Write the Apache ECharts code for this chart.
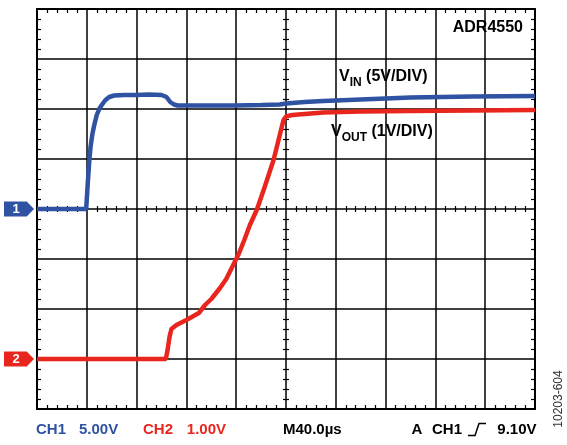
<!DOCTYPE html>
<html><head><meta charset="utf-8">
<script src="https://cdn.jsdelivr.net/npm/echarts@6/dist/echarts.min.js"></script>
<style>html,body{margin:0;padding:0;background:#fff}#c{width:567px;height:445px}</style>
</head><body><div id="c"></div>
<script>
// ---- data (time in µs across the 10-division screen, volts per channel) ----
const ch1Time  = [0, 10, 20, 30, 39.5, 41, 42, 43, 44.5, 46, 48, 50, 52, 55, 58, 62, 70, 80, 90, 100, 104, 107, 110, 113, 120, 140, 160, 180, 195, 200, 215, 230, 260, 300, 350, 400];
const ch1Volts = [0, 0, 0, 0, 0, 3.0, 4.8, 6.2, 7.5, 8.4, 9.4, 10.0, 10.4, 10.9, 11.2, 11.35, 11.4, 11.4, 11.45, 11.4, 11.2, 10.7, 10.45, 10.35, 10.35, 10.35, 10.35, 10.4, 10.45, 10.55, 10.7, 10.8, 10.95, 11.15, 11.25, 11.3];
const ch2Time  = [0, 50, 100, 103.5, 105, 106.5, 108, 112, 120, 130, 135, 140, 147, 152, 157, 162, 166.5, 171, 176.5, 183, 190, 194, 198, 200, 205, 230, 260, 300, 350, 400];
const ch2Volts = [0, 0, 0, 0, 0.2, 0.45, 0.6, 0.68, 0.78, 0.92, 1.08, 1.2, 1.42, 1.6, 1.85, 2.1, 2.38, 2.68, 2.98, 3.45, 3.98, 4.38, 4.78, 4.85, 4.88, 4.93, 4.95, 4.96, 4.97, 4.98];
const timeRange = [0, 400];      // 40 µs/div
const ch1Range  = [-20, 20];     // 5 V/div, ground at centre
const ch2Range  = [-1, 7];       // 1 V/div, ground one div above bottom
const channelTags = ['1', '2'];

const BLUE = '#2F52A3', RED = '#E8261E';
const FONT = '"Liberation Sans", Arial, sans-serif';
const tagPath = 'path://M0,0 L22,0 L29,7 L22,14 L0,14 Z';

function axisBase(extra) {
  return Object.assign({
    type: 'value',
    axisLabel: { show: false },
    axisTick: { show: false, inside: true },
    minorTick: { show: true, splitNumber: 5, length: 4, lineStyle: { color: '#000', width: 1.2 } },
    minorSplitLine: { show: false },
    splitLine: { show: false },
    axisLine: { show: true, onZero: false, lineStyle: { color: '#000', width: 2 } }
  }, extra);
}
function centerAxis(extra, refIndex) {
  return axisBase(Object.assign({
    axisTick: { show: false, inside: false },
    minorTick: { show: true, splitNumber: 5, length: 3, lineStyle: { color: '#000', width: 1.2 } },
    axisLine: { show: false, onZero: true, onZeroAxisIndex: refIndex }
  }, extra));
}
const gridLine = { show: true, lineStyle: { color: '#000', width: 1.5 } };

const chart = echarts.init(document.getElementById('c'), null, { renderer: 'canvas' });
chart.setOption({
  animation: false,
  backgroundColor: '#fff',
  grid: { left: 37, right: 32, top: 9, bottom: 36, containLabel: false },
  xAxis: [
    axisBase({ min: timeRange[0], max: timeRange[1], interval: 40, position: 'bottom', splitLine: gridLine }),
    axisBase({ min: timeRange[0], max: timeRange[1], interval: 40, position: 'top' }),
    centerAxis({ min: timeRange[0], max: timeRange[1], interval: 40, position: 'bottom' }, 0),
    centerAxis({ min: timeRange[0], max: timeRange[1], interval: 40, position: 'top' }, 0),
    { type: 'value', show: false, min: -200, max: 200 }
  ],
  yAxis: [
    axisBase({ min: ch1Range[0], max: ch1Range[1], interval: 5, position: 'left', splitLine: gridLine }),
    { type: 'value', show: false, min: ch2Range[0], max: ch2Range[1], interval: 1, position: 'right', axisLine: { onZero: false } },
    axisBase({ min: ch1Range[0], max: ch1Range[1], interval: 5, position: 'right' }),
    centerAxis({ min: ch1Range[0], max: ch1Range[1], interval: 5, position: 'left' }, 4),
    centerAxis({ min: ch1Range[0], max: ch1Range[1], interval: 5, position: 'right' }, 4)
  ],
  series: [
    {
      type: 'line', name: 'CH2', xAxisIndex: 0, yAxisIndex: 1,
      data: ch2Time.map((t, i) => [t, ch2Volts[i]]),
      symbol: 'none', lineStyle: { color: RED, width: 4.5 }, z: 3,
      markPoint: {
        data: [{ coord: [0, 0] }],
        symbol: tagPath, symbolSize: [30, 15], symbolOffset: [-18, 0],
        itemStyle: { color: RED },
        label: { show: true, formatter: channelTags[1], color: '#fff', fontWeight: 'bold', fontSize: 13, fontFamily: FONT, offset: [-3, 0] }
      }
    },
    {
      type: 'line', name: 'CH1', xAxisIndex: 0, yAxisIndex: 0,
      data: ch1Time.map((t, i) => [t, ch1Volts[i]]),
      symbol: 'none', lineStyle: { color: BLUE, width: 4.5 }, z: 4,
      markPoint: {
        data: [{ coord: [0, 0] }],
        symbol: tagPath, symbolSize: [30, 15], symbolOffset: [-18, 0],
        itemStyle: { color: BLUE },
        label: { show: true, formatter: channelTags[0], color: '#fff', fontWeight: 'bold', fontSize: 13, fontFamily: FONT, offset: [-3, 0] }
      }
    }
  ],
  graphic: [
    { type: 'text', x: 523, y: 27.5, z: 10, style: { text: 'ADR4550', font: 'bold 16px ' + FONT, fill: '#000', align: 'right', verticalAlign: 'middle' } },
    { type: 'text', x: 339, y: 76, z: 10, style: {
      text: '{m|V}{s|IN}{m| (5V/DIV)}', verticalAlign: 'middle', fill: '#000',
      rich: { m: { font: 'bold 16px ' + FONT, fill: '#000', verticalAlign: 'bottom', lineHeight: 18 },
              s: { font: 'bold 12px ' + FONT, fill: '#000', verticalAlign: 'bottom', lineHeight: 14, padding: [0, 0, -4, 0] } } } },
    { type: 'text', x: 331, y: 131, z: 10, style: {
      text: '{m|V}{s|OUT}{m| (1V/DIV)}', verticalAlign: 'middle', fill: '#000',
      rich: { m: { font: 'bold 16px ' + FONT, fill: '#000', verticalAlign: 'bottom', lineHeight: 18 },
              s: { font: 'bold 12px ' + FONT, fill: '#000', verticalAlign: 'bottom', lineHeight: 14, padding: [0, 0, -4, 0] } } } },
    { type: 'text', x: 36, y: 430, style: { text: 'CH1', font: 'bold 15px ' + FONT, fill: BLUE, verticalAlign: 'middle' } },
    { type: 'text', x: 79, y: 430, style: { text: '5.00V', font: 'bold 15px ' + FONT, fill: BLUE, verticalAlign: 'middle' } },
    { type: 'text', x: 143, y: 430, style: { text: 'CH2', font: 'bold 15px ' + FONT, fill: RED, verticalAlign: 'middle' } },
    { type: 'text', x: 226, y: 430, style: { text: '1.00V', font: 'bold 15px ' + FONT, fill: RED, align: 'right', verticalAlign: 'middle' } },
    { type: 'text', x: 283, y: 430, style: { text: 'M40.0µs', font: 'bold 15px ' + FONT, fill: '#000', verticalAlign: 'middle' } },
    { type: 'text', x: 411.5, y: 430, style: { text: 'A', font: 'bold 15px ' + FONT, fill: '#000', verticalAlign: 'middle' } },
    { type: 'text', x: 432, y: 430, style: { text: 'CH1', font: 'bold 15px ' + FONT, fill: '#000', verticalAlign: 'middle' } },
    { type: 'polyline', shape: { points: [[468, 435.5], [475, 435.5], [479, 423.5], [486, 423.5]] }, style: { stroke: '#000', lineWidth: 1.5, fill: null } },
    { type: 'text', x: 536.5, y: 430, style: { text: '9.10V', font: 'bold 15px ' + FONT, fill: '#000', align: 'right', verticalAlign: 'middle' } },
    { type: 'text', x: 559, y: 399, rotation: Math.PI / 2, style: { text: '10203-604', font: '12px ' + FONT, fill: '#333', align: 'center', verticalAlign: 'middle' } }
  ]
});
</script>
</body></html>
